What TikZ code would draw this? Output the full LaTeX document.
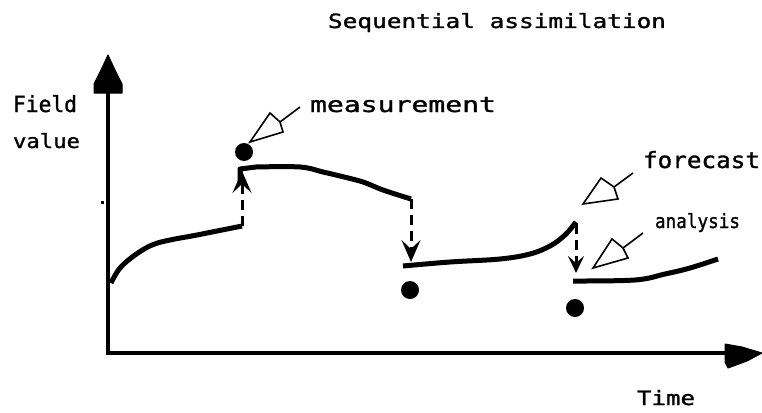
\documentclass[tikz,border=0pt]{standalone}
\usepackage{fontspec}
\usepackage{graphicx}
\setmainfont{DejaVu Sans Mono}
\newfontfamily\pixfont[FakeBold=1.2]{DejaVu Sans Mono}
\usetikzlibrary{arrows.meta}
\tikzset{
  axisline/.style={line width=4pt},
  headfill/.style={fill=black, draw=black, line width=1pt, line join=round},
  curve/.style={line width=5pt, line join=round, line cap=butt},
  dasharrow/.style={line width=3pt, dash pattern=on 10pt off 6pt,
     -{Stealth[length=22pt,width=19pt,inset=9pt]}},
  smalldasharrow/.style={line width=3pt, dash pattern=on 10pt off 6pt,
     -{Stealth[length=17pt,width=16pt,inset=7pt]}},
  meas/.style={circle, fill=black, inner sep=0pt, minimum size=18pt},
  pointer/.style={line width=1.6pt, line join=miter},
  lbl/.style={inner sep=0pt, outer sep=0pt, anchor=base west, font=\pixfont\fontsize{16pt}{18pt}\selectfont}
}
\begin{document}
\begin{tikzpicture}[x=1pt, y=-1pt]
\useasboundingbox (0,0) rectangle (762,412);
\fill[white] (0,0) rectangle (762,412);

% texts
\node[lbl] (title) at (328,28) {\resizebox{338pt}{15pt}{Sequential assimilation}};
\node[lbl] (field) at (13,112) {\resizebox{64pt}{17pt}{Field}};
\node[lbl] (value) at (13,148) {\resizebox{67pt}{15pt}{value}};
\node[lbl] (measlbl) at (310,112) {\resizebox{186pt}{15pt}{measurement}};
\node[lbl] (fclbl) at (643,168) {\resizebox{117pt}{17pt}{forecast}};
\node[lbl] (anlbl) at (655,228) {\resizebox{85pt}{15pt}{analysis}};
\node[lbl] (timelbl) at (637,405) {\resizebox{58pt}{15pt}{Time}};

% axes
\coordinate (origin) at (108,353);
\coordinate (ytop) at (108,92);
\coordinate (xend) at (727,353);
\draw[axisline] (origin) -- (ytop);
\draw[axisline] ([xshift=-2pt]origin) -- (xend);
\fill[headfill] (108,55) -- (115,70) -- (119,78) -- (122,84) -- (122,93) -- (94,93) -- (94,84) -- (97,78) -- (101,70) -- cycle;
\fill[headfill] (725,344) -- (742,347) -- (762,353) -- (747,361) -- (728,368) -- (725,362) -- cycle;
\fill (100.5,200.5) rectangle (103.5,203.5);

% model curves
\draw[curve] plot[smooth, tension=0.6] coordinates {(111,283) (120,268) (135,255) (152,245) (170,240) (197,235) (242,226)};
\draw[curve] (240,182) -- (240,169) -- plot[smooth, tension=0.6] coordinates {(256,167) (300,167) (323,172) (340,176) (363,182) (383,190) (411,199)};
\draw[curve] plot[smooth, tension=0.6] coordinates {(403,266) (450,262) (500,259) (530,254) (550,246) (565,235) (576,222)};
\draw[curve] plot[smooth, tension=0.6] coordinates {(573,281) (635,280) (665,274) (690,268) (718,259)};

% correction arrows
\coordinate (u1s) at (242,226);
\coordinate (u1e) at (242,171);
\coordinate (d1s) at (411,199);
\coordinate (d1e) at (411,262);
\coordinate (d2s) at (576,224);
\coordinate (d2e) at (576,273);
\draw[dasharrow] (u1s) -- (u1e);
\draw[dasharrow] (d1s) -- (d1e);
\draw[smalldasharrow] (d2s) -- (d2e);

% measurements
\node[meas] (m1) at (244,152) {};
\node[meas] (m2) at (410,290) {};
\node[meas] (m3) at (575,308) {};

% callout pointers
\coordinate (p1tip) at (250,142);
\coordinate (p1up) at (270,113);
\coordinate (p1n) at (280,122);
\coordinate (p1lo) at (283,132);
\coordinate (p1t) at (300,107);
\draw[pointer] (p1tip) -- (p1up) -- (p1n) -- (p1lo) -- cycle;
\draw[pointer] (p1n) -- (p1t);

\coordinate (p2tip) at (583,204);
\coordinate (p2up) at (601,178);
\coordinate (p2n) at (614,187);
\coordinate (p2lo) at (618,199);
\coordinate (p2t) at (633,173);
\draw[pointer] (p2tip) -- (p2up) -- (p2n) -- (p2lo) -- cycle;
\draw[pointer] (p2n) -- (p2t);

\coordinate (p3tip) at (593,268);
\coordinate (p3up) at (612,239);
\coordinate (p3n) at (623,248);
\coordinate (p3lo) at (628,258);
\coordinate (p3t) at (643,233);
\draw[pointer] (p3tip) -- (p3up) -- (p3n) -- (p3lo) -- cycle;
\draw[pointer] (p3n) -- (p3t);
\end{tikzpicture}
\end{document}
